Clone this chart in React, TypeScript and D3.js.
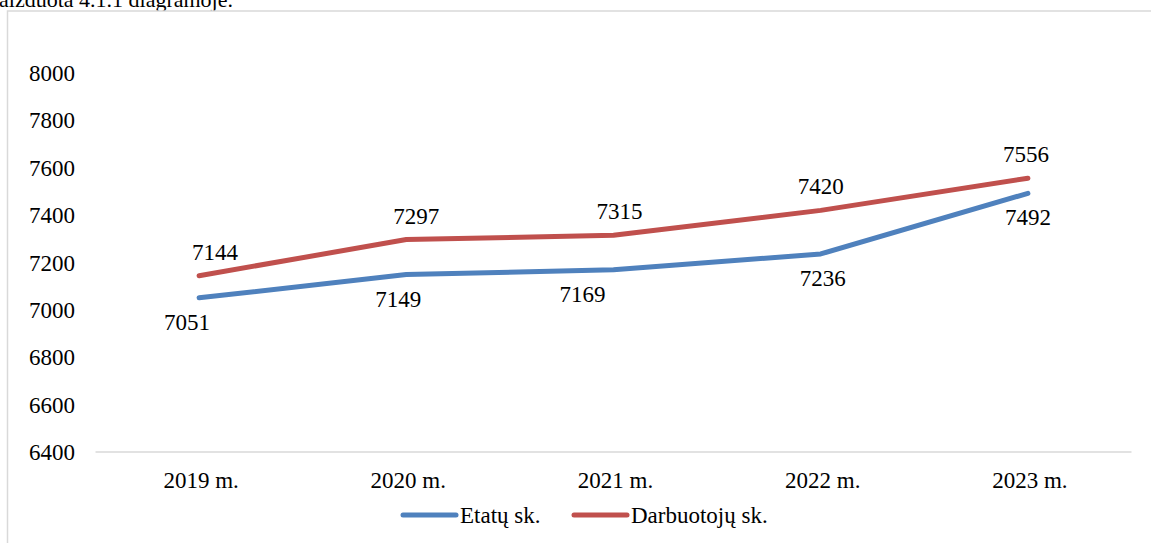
import * as React from 'react';
import * as d3 from 'd3';

const categories = ['2019 m.', '2020 m.', '2021 m.', '2022 m.', '2023 m.'];
const etatai = [7051, 7149, 7169, 7236, 7492];
const darbuotojai = [7144, 7297, 7315, 7420, 7556];
const yTicks = [6400, 6600, 6800, 7000, 7200, 7400, 7600, 7800, 8000];
const seriesNames = ['Etatų sk.', 'Darbuotojų sk.'];

const W = 1151;
const H = 543;
const FONT = '"Liberation Serif", "Times New Roman", serif';
const FS = 23;

export default function App() {
  const ref = React.useRef<SVGSVGElement>(null);

  React.useEffect(() => {
    const svg = d3.select(ref.current);
    svg.selectAll('*').remove();

    const x = d3.scaleBand().domain(categories).range([95.5, 1131.5]);
    const y = d3.scaleLinear().domain([6400, 8000]).range([452, 73]);
    const cx = (c: string) => (x(c) ?? 0) + x.bandwidth() / 2;

    // text of the surrounding document, cut off at the top
    svg.append('text')
      .attr('x', -1).attr('y', 7)
      .attr('font-family', FONT).attr('font-size', 22)
      .text('aizduota 4.1.1 diagramoje.');

    // chart frame
    svg.append('rect')
      .attr('x', 7.5).attr('y', 11)
      .attr('width', 1160).attr('height', 560)
      .attr('fill', 'white')
      .attr('stroke', '#d9d9d9').attr('stroke-width', 1.5);

    // baseline
    svg.append('line')
      .attr('x1', x.range()[0]).attr('x2', x.range()[1])
      .attr('y1', y(6400)).attr('y2', y(6400))
      .attr('stroke', '#d9d9d9').attr('stroke-width', 1.5);

    const yAxis = svg.append('g')
      .attr('font-family', FONT).attr('font-size', FS);
    yAxis.selectAll('text').data(yTicks).join('text')
      .attr('x', 75).attr('y', d => y(d))
      .attr('dy', '0.35em')
      .attr('text-anchor', 'end')
      .text(d => d);

    const xAxis = svg.append('g')
      .attr('font-family', FONT).attr('font-size', FS);
    xAxis.selectAll('text').data(categories).join('text')
      .attr('x', d => cx(d) + 2).attr('y', 480)
      .attr('dy', '0.35em')
      .attr('text-anchor', 'middle')
      .text(d => d);

    const line = d3.line<number>()
      .x((_, i) => cx(categories[i]))
      .y(d => y(d));

    // label nudges sideways, as Word placed them
    const series = [
      { values: etatai, color: '#4f81bd', dy: 24, dx: [-12, -8, -31, 2, 0] },
      { values: darbuotojai, color: '#c0504d', dy: -24, dx: [16, 10, 6, 0, -2] },
    ];

    series.forEach(s => {
      svg.append('path')
        .attr('d', line(s.values))
        .attr('fill', 'none')
        .attr('stroke', s.color)
        .attr('stroke-width', 5)
        .attr('stroke-linecap', 'round')
        .attr('stroke-linejoin', 'round');

      svg.append('g')
        .attr('font-family', FONT).attr('font-size', FS)
        .selectAll('text').data(s.values).join('text')
        .attr('x', (_, i) => cx(categories[i]) + s.dx[i])
        .attr('y', d => y(d) + s.dy)
        .attr('dy', '0.35em')
        .attr('text-anchor', 'middle')
        .text(d => d);
    });

    // legend
    const legend = svg.append('g').attr('font-family', FONT).attr('font-size', FS);
    const legendX = [403, 574];
    seriesNames.forEach((name, i) => {
      legend.append('line')
        .attr('x1', legendX[i]).attr('x2', legendX[i] + 53)
        .attr('y1', 515).attr('y2', 515)
        .attr('stroke', series[i].color)
        .attr('stroke-width', 5)
        .attr('stroke-linecap', 'round');
      legend.append('text')
        .attr('x', legendX[i] + 57).attr('y', 515)
        .attr('dy', '0.35em')
        .text(name);
    });
  }, []);

  return (
    <svg
      ref={ref}
      width={W}
      height={H}
      style={{ position: 'absolute', left: 0, top: 0, background: 'white' }}
    />
  );
}
